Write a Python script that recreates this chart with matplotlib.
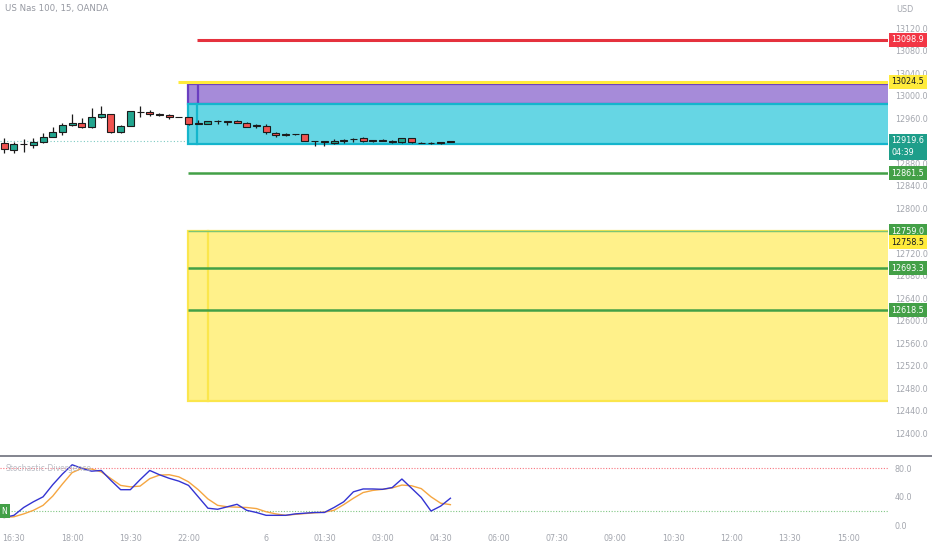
import matplotlib.pyplot as plt
import numpy as np
from matplotlib.lines import Line2D
from matplotlib.patches import Rectangle

# 15 min bars, x = bar index (0 = 16:30, sessions gap removed)
bar_idx = np.arange(-1, 46)
opens = [12915, 12904, 12913, 12912, 12918, 12927, 12936, 12948, 12952, 12943.5,
         12961, 12966.5, 12934.5, 12946, 12971, 12971, 12968, 12965, 12962, 12961,
         12950, 12950, 12954, 12953.5, 12955, 12951.5, 12948, 12946, 12934, 12931,
         12931, 12931, 12919, 12918, 12916, 12920, 12922, 12925, 12920, 12920,
         12916.5, 12917, 12924, 12916, 12915.5, 12915, 12917]
highs = [12924, 12918, 12922, 12925, 12934, 12943.5, 12952, 12968, 12959.5, 12977,
         12982, 12967, 12947.5, 12973, 12982, 12974, 12969, 12967, 12962.5, 12961.5,
         12957, 12954.5, 12957, 12955, 12956, 12952.5, 12949.5, 12950, 12934.5, 12932.5,
         12931.5, 12932, 12919.5, 12918.5, 12922, 12923, 12925, 12926.5, 12921, 12922,
         12920.5, 12925, 12924.5, 12917, 12918, 12918, 12920]
lows = [12898, 12897, 12900, 12906, 12916, 12926, 12930, 12946, 12942, 12942,
        12959.5, 12934, 12933, 12946, 12961, 12963.5, 12963, 12958, 12961.5, 12948,
        12949.5, 12949.5, 12949, 12948, 12951, 12943.5, 12943, 12931, 12927, 12928,
        12930.5, 12918.5, 12910, 12911, 12914, 12916, 12918, 12918, 12918, 12919,
        12916, 12915.5, 12915, 12915, 12913, 12914.5, 12916.5]
closes = [12904.5, 12914, 12913, 12918, 12927, 12936, 12948, 12952, 12943.5, 12961,
          12966.5, 12935, 12946.5, 12972, 12971, 12967, 12965, 12962.5, 12962, 12949,
          12950, 12954, 12954, 12953.5, 12951.5, 12944.5, 12946, 12934.5, 12929, 12930,
          12931, 12919.5, 12919, 12918, 12920, 12921, 12922, 12920, 12920, 12920,
          12920, 12924, 12917, 12916, 12915.5, 12917, 12919.6]

# stochastic %K (blue) and %D (orange)
stoch_k = [11, 14, 25, 33, 40, 57, 72, 85, 80, 76, 77, 63, 50, 50, 64, 77, 71, 66, 62,
           56, 40, 24, 22.5, 26, 29.5, 21, 18, 14, 14, 14, 16, 17, 18, 18, 25, 33, 47,
           51, 51, 50.5, 53, 65, 52, 39, 20, 27, 38]
stoch_d = [11, 12, 16, 21, 28, 41, 58, 74, 80, 79, 75, 65.5, 56, 54, 55, 65.5, 70.5,
           71, 68, 61, 50, 37, 28, 26, 25.5, 25, 23.5, 19, 16, 14, 15.4, 16.5, 17.5,
           18.5, 21, 29, 38, 46, 49, 50.5, 52.5, 56.5, 55.5, 51.5, 40, 31, 29]

tick_pos = [0, 6, 12, 18, 26, 32, 38, 44, 50, 56, 62, 68, 74, 80, 86]
tick_lab = ['16:30', '18:00', '19:30', '22:00', '6', '01:30', '03:00', '04:30',
            '06:00', '07:30', '09:00', '10:30', '12:00', '13:30', '15:00']

# price scale labels (12920 / 12760 sit under the price tags)
price_ticks = [12400, 12440, 12480, 12520, 12560, 12600, 12640, 12680, 12720,
               12800, 12840, 12880, 12960, 13000, 13040, 13080, 13120]

# levels / zones
red_level = 13098.9
yellow_level = 13024.5
green_levels = [12861.5, 12693.3, 12618.5]
purple_zone = (12985.0, 13020.4)
cyan_zone = (12913.8, 12985.0)
yellow_zone = (12456.9, 12759.0)
last_price = 12919.6

GRAY = '#a3a6ae'
XMIN, XMAX = -1.44, 90.12

fig = plt.figure(figsize=(9.32, 5.5), dpi=100)
ax = fig.add_axes([0, 1 - 455 / 550, 888 / 932, 455 / 550])
sx = fig.add_axes([0, 1 - 530 / 550, 888 / 932, 74 / 550])

# ---- main price pane
ax.set_xlim(XMIN, XMAX)
ax.set_ylim(12360.9, 13169.8)
for s in ax.spines.values():
    s.set_visible(False)
ax.set_xticks([])
ax.yaxis.tick_right()
ax.set_yticks(price_ticks)
ax.set_yticklabels(['%.1f' % v for v in price_ticks])
ax.tick_params(axis='y', length=0, pad=5, labelsize=5.8, labelcolor=GRAY)

ax.axhline(last_price, color='#26a69a', lw=0.8, ls=(0, (1, 2)), alpha=0.6, zorder=1)

def zone(lo, hi, x0, inner, fc, ec):
    ax.add_patch(Rectangle((x0, lo), XMAX - x0 + 2, hi - lo, fc=fc, ec=ec, lw=1.6, zorder=2))
    ax.plot([inner, inner], [lo, hi], color=ec, lw=1.6, zorder=2)

zone(*purple_zone, 17.94, 19.0, '#a68bd9', '#6a3fc0')
zone(*cyan_zone, 17.94, 18.9, '#66d6e4', '#14b5cc')
zone(*yellow_zone, 17.94, 20.0, '#fff18a', '#fbe64c')

ax.hlines(red_level, 18.9, XMAX, color='#e5323e', lw=2.2, zorder=3)
ax.hlines(yellow_level, 16.9, XMAX, color='#ffeb3b', lw=2.2, zorder=3)
ax.hlines(green_levels, 17.94, XMAX, color='#43a047', lw=1.8, zorder=3)
ax.hlines(yellow_zone[1], 17.94, XMAX, color='#7cc576', lw=1.0, zorder=3)

# candles
o = np.array(opens); c = np.array(closes)
up = c >= o
ax.vlines(bar_idx, lows, highs, color='#1b1b1b', lw=0.9, zorder=4)
body_lo = np.minimum(o, c)
body_h = np.maximum(np.abs(c - o), 0.4)
ax.bar(bar_idx, body_h, bottom=body_lo, width=0.72,
       color=np.where(up, '#22a58f', '#ef5350'), edgecolor='#1b1b1b', lw=0.8, zorder=5)

def price_tag(y, text, fc, tc, dy=0):
    ax.annotate(text, xy=(1, y), xycoords=('axes fraction', 'data'),
                xytext=(3.5, dy), textcoords='offset pixels', ha='left', va='center',
                fontsize=5.8, color=tc, linespacing=1.5,
                bbox=dict(boxstyle='square,pad=0.3', fc=fc, ec='none'),
                zorder=10, annotation_clip=False)

price_tag(red_level, '%.1f' % red_level, '#f23645', 'white')
price_tag(yellow_level, '%.1f' % yellow_level, '#ffeb3b', '#131722')
price_tag(last_price, '%.1f\n04:39' % last_price, '#1e9e8a', 'white', dy=-6)
for g in green_levels:
    price_tag(g, '%.1f' % g, '#43a047', 'white')
price_tag(yellow_zone[1], '%.1f' % yellow_zone[1], '#43a047', 'white')
price_tag(12758.5, '12758.5', '#ffeb3b', '#131722', dy=-11)

fig.text(5 / 932, 1 - 9 / 550, 'US Nas 100, 15, OANDA', fontsize=6.2, color='#9598a1', va='center')
fig.text(896 / 932, 1 - 9 / 550, 'USD', fontsize=5.8, color=GRAY, va='center')

# ---- stochastic pane
sx.set_xlim(XMIN, XMAX)
sx.set_ylim(-6.6, 97.3)
for s in sx.spines.values():
    s.set_visible(False)
sx.yaxis.tick_right()
sx.set_yticks([0, 40, 80])
sx.set_yticklabels(['0.0', '40.0', '80.0'])
sx.set_xticks(tick_pos)
sx.set_xticklabels(tick_lab)
sx.tick_params(axis='both', length=0, labelsize=5.8, labelcolor=GRAY)
sx.tick_params(axis='y', pad=5)
sx.tick_params(axis='x', pad=3)

sx.axhline(80, color='#f7525f', lw=0.8, ls=(0, (1, 1.5)), alpha=0.8)
sx.axhline(20, color='#4caf50', lw=0.8, ls=(0, (1, 1.5)), alpha=0.7)
sx.plot(bar_idx, stoch_d, color='#f5a641', lw=1.0)
sx.plot(bar_idx, stoch_k, color='#3434d2', lw=1.0)
sx.text(5 / 888, 80, 'Stochastic-Divergence', transform=sx.get_yaxis_transform(),
        fontsize=5.5, color='#b2b5be', va='center', alpha=0.9)
sx.text(4.5 / 888, 20, 'N', transform=sx.get_yaxis_transform(), fontsize=5.5,
        color='white', ha='center', va='center',
        bbox=dict(boxstyle='square,pad=0.35', fc='#43a047', ec='none'))

fig.add_artist(Line2D([0, 1], [1 - 455.5 / 550] * 2, transform=fig.transFigure,
                      color='#787b86', lw=1.3))

fig.savefig('out.png', dpi=100)
